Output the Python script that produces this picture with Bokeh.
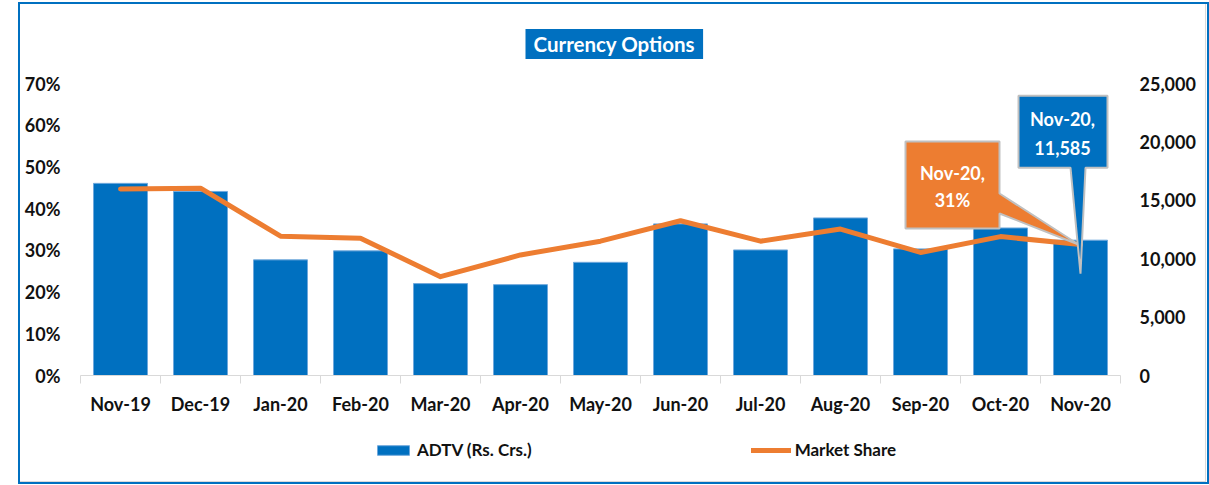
from bokeh.plotting import figure
from bokeh.models import (Range1d, LinearAxis, FixedTicker, PrintfTickFormatter,
                          NumeralTickFormatter, Legend, LegendItem)
from bokeh.layouts import column
from bokeh.core.properties import value
from bokeh.embed import file_html
from bokeh.resources import INLINE

# ---------------- data ----------------
months = ["Nov-19", "Dec-19", "Jan-20", "Feb-20", "Mar-20", "Apr-20", "May-20",
          "Jun-20", "Jul-20", "Aug-20", "Sep-20", "Oct-20", "Nov-20"]
adtv = [16450, 15760, 9900, 10670, 7870, 7780, 9690, 12980, 10750, 13490, 10840, 12630, 11585]
market_share = [44.7, 44.9, 33.4, 32.9, 23.7, 28.9, 32.2, 37.1, 32.2, 35.1, 29.5, 33.3, 31.4]
pct_ticks = [0, 10, 20, 30, 40, 50, 60, 70]
adtv_ticks = [0, 5000, 10000, 15000, 20000, 25000]
title_text = "Currency Options"
bar_label = "ADTV (Rs. Crs.)"
line_label = "Market Share"

# ---------------- layout constants ----------------
BLUE = "#0070C0"
ORANGE = "#ED7D31"
BAR_EDGE = "#6fa8dc"
FONT = "Lato"
W = 1209
H1, H2 = 427, 57
FRAME_L, FRAME_R, FRAME_T, FRAME_B = 80, 1120, 83, 375
FRAME_W, FRAME_H = FRAME_R - FRAME_L, FRAME_B - FRAME_T

n = len(months)
centers = [i + 0.5 for i in range(n)]
bounds = [i for i in range(n + 1)]


def css_lines(segs):
    parts = []
    for x, y, w, h, c in segs:
        parts.append(f"linear-gradient({c},{c}) {x}px {y}px / {w}px {h}px no-repeat")
    return {"background": ", ".join(parts)}


p = figure(width=W, height=H1, x_range=Range1d(0, n), y_range=Range1d(0, pct_ticks[-1]),
           output_backend="svg", toolbar_location=None,
           min_border_left=FRAME_L, min_border_right=W - FRAME_R,
           min_border_top=FRAME_T, min_border_bottom=H1 - FRAME_B)
p.extra_y_ranges = {"adtv": Range1d(0, adtv_ticks[-1])}
p.outline_line_color = None
p.xgrid.visible = False
p.ygrid.visible = False
p.border_fill_color = None
p.background_fill_color = None
p.styles = css_lines([(18, 2, 2, H1, BLUE), (18, 2, 1191, 2, BLUE), (1207, 2, 2, H1, BLUE),
                      (1205, 4, 1, H1, "#d9d9d9")])

# title
p.title.text = title_text
p.title.align = "left"
p.title.offset = 445
p.title.standoff = 49
p.title.text_font = FONT
p.title.text_font_size = "20.5px"
p.title.text_font_style = "bold"
p.title.text_color = "white"
p.title.background_fill_color = BLUE
p.title.padding = (8, 3)

# x axis
xa = p.xaxis[0]
xa.ticker = FixedTicker(ticks=centers, minor_ticks=bounds)
xa.major_label_overrides = {c: m for c, m in zip(centers, months)}
xa.major_tick_line_color = None
xa.major_tick_out = 0
xa.major_tick_in = 0
xa.minor_tick_line_color = "#d9d9d9"
xa.minor_tick_out = 8
xa.minor_tick_in = 0
xa.axis_line_color = "#d9d9d9"
xa.major_label_standoff = 9

# left axis
ya = p.yaxis[0]
ya.ticker = FixedTicker(ticks=pct_ticks)
ya.formatter = PrintfTickFormatter(format="%d%%")
ya.major_label_standoff = 20

# right axis
ra = LinearAxis(y_range_name="adtv", ticker=FixedTicker(ticks=adtv_ticks),
                formatter=NumeralTickFormatter(format="0,0"))
p.add_layout(ra, "right")
ra.major_label_standoff = 19

for ax in (ya, ra):
    ax.axis_line_color = None
    ax.major_tick_line_color = None
    ax.minor_tick_line_color = None
    ax.major_tick_out = 0
    ax.major_tick_in = 0
for ax in (xa, ya, ra):
    ax.major_label_text_font = FONT
    ax.major_label_text_font_size = "18px"
    ax.major_label_text_font_style = "bold"
    ax.major_label_text_color = "#111111"

# bars and line
bars = p.vbar(x=centers, top=adtv, width=0.675, y_range_name="adtv",
              fill_color=BLUE, line_color=BAR_EDGE, line_width=1)
line = p.line(x=centers, y=market_share, line_color=ORANGE, line_width=5,
              line_join="round", line_cap="round")

# ---------------- callouts (anchored to last data point) ----------------
px_x = FRAME_W / n
px_pct = FRAME_H / pct_ticks[-1]
px_adtv = FRAME_H / adtv_ticks[-1]

ax0, ay0 = centers[-1], market_share[-1]
o_off = [(-175, 16), (-175, 103), (-81, 103), (-81, 51), (-2, 0), (-81, 31), (-81, 16)]
p.patch([ax0 + dx / px_x for dx, dy in o_off], [ay0 + dy / px_pct for dx, dy in o_off],
        fill_color=ORANGE, line_color="#c0c0c0", line_width=2)
p.text(x=[ax0 - 128 / px_x] * 2, y=[ay0 + 72 / px_pct, ay0 + 45 / px_pct],
       text=[months[-1] + ",", f"{round(market_share[-1])}%"],
       text_font=value(FONT), text_font_style="bold", text_font_size="18px",
       text_color="white", text_align="center", text_baseline="middle")

bx0, by0 = centers[-1], adtv[-1]
b_off = [(-62, 72.5), (-62, 144.5), (27, 144.5), (27, 72.5), (5, 72.5), (0, -33.5), (-10, 72.5)]
p.patch([bx0 + dx / px_x for dx, dy in b_off], [by0 + dy / px_adtv for dx, dy in b_off],
        y_range_name="adtv", fill_color=BLUE, line_color="#c0c0c0", line_width=2)
p.text(x=[bx0 - 18 / px_x] * 2, y=[by0 + 121.5 / px_adtv, by0 + 92.5 / px_adtv],
       text=[months[-1] + ",", f"{adtv[-1]:,}"], y_range_name="adtv",
       text_font=value(FONT), text_font_style="bold", text_font_size="18px",
       text_color="white", text_align="center", text_baseline="middle")

# ---------------- legend strip ----------------
pl = figure(width=W, height=H2, x_range=Range1d(0, 1), y_range=Range1d(0, 1),
            x_axis_type=None, y_axis_type=None, output_backend="svg", toolbar_location=None,
            min_border=0)
pl.outline_line_color = None
pl.grid.visible = False
pl.border_fill_color = None
pl.background_fill_color = None
pl.styles = css_lines([(18, 0, 2, H2, BLUE), (1207, 0, 2, H2, BLUE), (18, H2 - 2, 1191, 2, BLUE),
                       (1205, 0, 1, H2 - 3, "#d9d9d9"), (20, H2 - 3, 1186, 1, "#d9d9d9")])

nan = float("nan")
lb = pl.vbar(x=[nan], top=[nan], width=0.5, fill_color=BLUE, line_color=BAR_EDGE)
ll = pl.line(x=[nan], y=[nan], line_color=ORANGE, line_width=5, line_cap="round")
legend = Legend(items=[LegendItem(label=bar_label, renderers=[lb]),
                       LegendItem(label=line_label, renderers=[ll])],
                location=(293, 24), orientation="horizontal", spacing=219,
                glyph_width=40, glyph_height=12, label_width=114, label_height=20,
                label_standoff=4, padding=0, margin=0,
                border_line_color=None, background_fill_alpha=0,
                label_text_font=FONT, label_text_font_size="17px",
                label_text_font_style="bold", label_text_color="#111111")
pl.add_layout(legend)

open("out.html", "w").write(file_html(column(p, pl, spacing=0), INLINE))
